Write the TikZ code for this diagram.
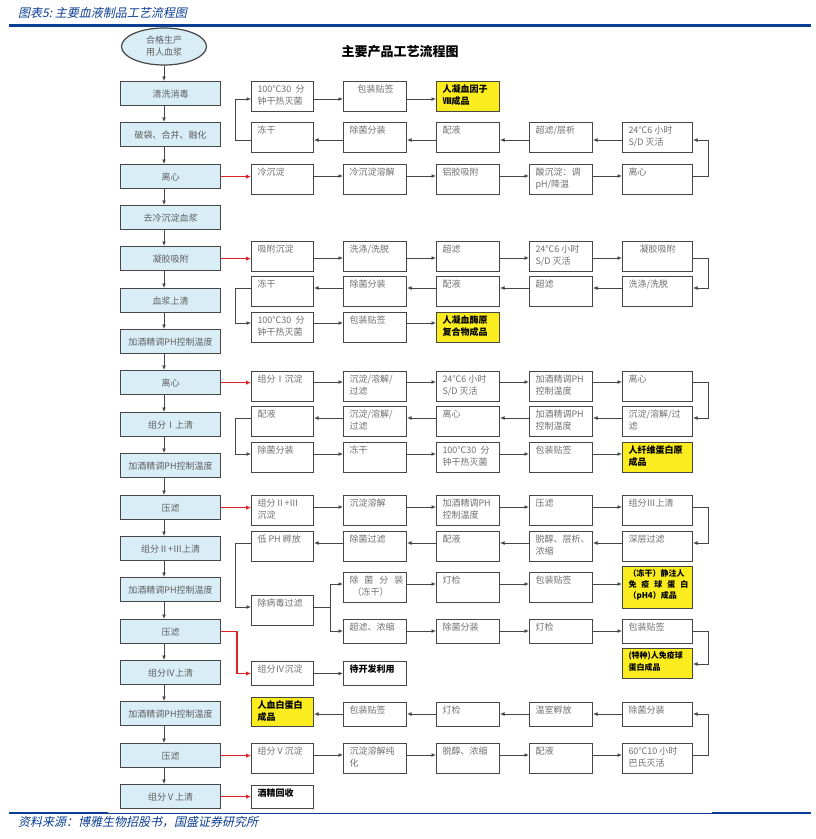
\documentclass[tikz,border=0pt]{standalone}
\usepackage{fontspec}
\setmainfont{Noto Sans CJK SC}
\newfontfamily\hdrfont[FakeSlant=0.22]{Noto Sans CJK SC}
\usetikzlibrary{arrows.meta,shapes.geometric}
\definecolor{lblue}{RGB}{216,237,245}
\definecolor{bd}{RGB}{70,70,70}
\definecolor{yel}{RGB}{250,236,30}
\definecolor{rd}{RGB}{222,32,40}
\definecolor{hblue}{RGB}{10,62,148}
\definecolor{tg}{RGB}{112,112,112}
\definecolor{lt}{RGB}{95,95,95}
\newcommand\rbfmt{\vspace*{3.2pt}\leftskip=6pt\rightskip=0pt plus 1fil\parindent=0pt\fontsize{9}{12}\selectfont}
\newcommand\RB[7]{\node[#1,anchor=north west] (#2) at (#3,#4) {\parbox[c][#6pt][t]{#5pt}{\rbfmt #7\par}};}
\newcommand\harr[3]{\draw[arr] (#1.east|-#3) -- (#2.west|-#3);}
\newcommand\larr[3]{\draw[arr] (#1.west|-#3) -- (#2.east|-#3);}
\begin{document}
\begin{tikzpicture}[x=1pt,y=-1pt,
  rbox/.style={draw=bd,line width=1pt,fill=white,inner sep=0pt,text=tg},
  ybox/.style={draw=bd,line width=1pt,fill=yel,inner sep=0pt,text=black,font=\bfseries},
  bbox/.style={draw=bd,line width=1pt,fill=white,inner sep=0pt,text=black,font=\bfseries},
  lbox/.style={draw=bd,line width=1.2pt,fill=lblue,minimum width=100pt,minimum height=24pt,inner sep=0pt,text=lt,font=\fontsize{9}{11}\selectfont,anchor=north west},
  arr/.style={draw=bd,line width=0.9pt,-{Latex[length=4.5pt,width=4pt]}},
  rarr/.style={draw=rd,line width=1.6pt,-{Latex[length=5pt,width=4.5pt]}}]
\useasboundingbox (0,0) rectangle (815,839);
\fill[white] (0,0) rectangle (815,839);
% header and footer
\node[anchor=west,inner sep=0pt,text=hblue,font=\hdrfont\fontsize{12}{14}\selectfont] (hdr) at (18,12.5) {图表5:\ 主要血液制品工艺流程图};
\draw[hblue,line width=2.5pt] (9,25.5) -- (811,25.5);
\draw[hblue,line width=2pt] (9,812.5) -- (108,812.5);
\draw[hblue,line width=1pt] (108,813) -- (712,813);
\draw[hblue,line width=2pt] (712,812.5) -- (811,812.5);
\node[anchor=west,inner sep=0pt,text=hblue,font=\hdrfont\fontsize{12}{14}\selectfont] (src) at (18,822) {资料来源：博雅生物招股书，国盛证券研究所};
\node[font=\bfseries\fontsize{13}{15}\selectfont] (title) at (400,52) {主要产品工艺流程图};
% left column
\node[ellipse,draw=bd,line width=1.2pt,fill=lblue,minimum width=85pt,minimum height=37pt,inner sep=0pt,align=center,text=lt,font=\fontsize{9}{12}\selectfont] (E) at (164,46.5) {合格生产\\用人血浆};
\node[lbox] (L0) at (120,81) {清洗消毒};
\node[lbox] (L1) at (120,122) {破袋、合并、融化};
\node[lbox] (L2) at (120,164) {离心};
\node[lbox] (L3) at (120,205) {去冷沉淀血浆};
\node[lbox] (L4) at (120,246) {凝胶吸附};
\node[lbox] (L5) at (120,288) {血浆上清};
\node[lbox] (L6) at (120,329) {加酒精调PH控制温度};
\node[lbox] (L7) at (120,370) {离心};
\node[lbox] (L8) at (120,412) {组分Ⅰ上清};
\node[lbox] (L9) at (120,453) {加酒精调PH控制温度};
\node[lbox] (L10) at (120,495) {压滤};
\node[lbox] (L11) at (120,536) {组分Ⅱ+Ⅲ上清};
\node[lbox] (L12) at (120,577) {加酒精调PH控制温度};
\node[lbox] (L13) at (120,619) {压滤};
\node[lbox] (L14) at (120,660) {组分Ⅳ上清};
\node[lbox] (L15) at (120,701) {加酒精调PH控制温度};
\node[lbox] (L16) at (120,743) {压滤};
\node[lbox] (L17) at (120,784) {组分Ⅴ上清};
\draw[arr] (E.south) -- (E.south|-L0.north);
\foreach \a/\b in {L0/L1,L1/L2,L2/L3,L3/L4,L4/L5,L5/L6,L6/L7,L7/L8,L8/L9,L9/L10,L10/L11,L11/L12,L12/L13,L13/L14,L14/L15,L15/L16,L16/L17}
  \draw[arr] (\a.south-|E.south) -- (\b.north-|E.south);
% ===== section 1
\RB{rbox}{A00}{251}{81}{62}{30}{100℃30\ \ 分\\钟干热灭菌}
\RB{rbox}{A01}{343}{81}{63}{30}{\hspace*{8pt}包装贴签}
\RB{ybox}{A02}{436}{81}{63}{30}{人凝血因子\\Ⅷ成品}
\RB{rbox}{A10}{251}{122}{62}{30}{冻干}
\RB{rbox}{A11}{343}{122}{63}{30}{除菌分装}
\RB{rbox}{A12}{436}{122}{63}{30}{配液}
\RB{rbox}{A13}{529}{122}{63}{30}{超滤/层析}
\RB{rbox}{A14}{622}{122}{70}{30}{24℃6 小时\\S/D 灭活}
\RB{rbox}{A20}{251}{164}{62}{30}{冷沉淀}
\RB{rbox}{A21}{343}{164}{63}{30}{冷沉淀溶解}
\RB{rbox}{A22}{436}{164}{63}{30}{铝胶吸附}
\RB{rbox}{A23}{529}{164}{63}{30}{酸沉淀：调\\pH/降温}
\RB{rbox}{A24}{622}{164}{70}{30}{离心}
\coordinate (ra0) at (0,99);
\coordinate (ra1) at (0,140);
\coordinate (ra2) at (0,176);
\draw[rarr] (L2.east) -- (L2.east-|A20.west);
\harr{A20}{A21}{ra2}\harr{A21}{A22}{ra2}\harr{A22}{A23}{ra2}\harr{A23}{A24}{ra2}
\draw[arr] (A24.east|-ra2) -- ++(15,0) |- (A14.east|-ra1);
\larr{A14}{A13}{ra1}\larr{A13}{A12}{ra1}\larr{A12}{A11}{ra1}\larr{A11}{A10}{ra1}
\draw[arr] (A10.west|-ra1) -- ++(-16,0) |- (A00.west|-ra0);
\harr{A00}{A01}{ra0}\harr{A01}{A02}{ra0}
% ===== section 2
\RB{rbox}{B00}{251}{241}{62}{30}{吸附沉淀}
\RB{rbox}{B01}{343}{241}{63}{30}{洗涤/洗脱}
\RB{rbox}{B02}{436}{241}{63}{30}{超滤}
\RB{rbox}{B03}{529}{241}{63}{30}{24℃6 小时\\S/D 灭活}
\RB{rbox}{B04}{622}{241}{70}{30}{\hspace*{11pt}凝胶吸附}
\RB{rbox}{B10}{251}{276}{62}{30}{冻干}
\RB{rbox}{B11}{343}{276}{63}{30}{除菌分装}
\RB{rbox}{B12}{436}{276}{63}{30}{配液}
\RB{rbox}{B13}{529}{276}{63}{30}{超滤}
\RB{rbox}{B14}{622}{276}{70}{30}{洗涤/洗脱}
\RB{rbox}{B20}{251}{312}{62}{30}{100℃30\ \ 分\\钟干热灭菌}
\RB{rbox}{B21}{343}{312}{63}{30}{包装贴签}
\RB{ybox}{B22}{436}{312}{63}{30}{人凝血酶原\\复合物成品}
\coordinate (rb0) at (0,258);
\coordinate (rb1) at (0,288);
\coordinate (rb2) at (0,323);
\draw[rarr] (L4.east) -- (L4.east-|B00.west);
\harr{B00}{B01}{rb0}\harr{B01}{B02}{rb0}\harr{B02}{B03}{rb0}\harr{B03}{B04}{rb0}
\draw[arr] (B04.east|-rb0) -- ++(15,0) |- (B14.east|-rb1);
\larr{B14}{B13}{rb1}\larr{B13}{B12}{rb1}\larr{B12}{B11}{rb1}\larr{B11}{B10}{rb1}
\draw[arr] (B10.west|-rb1) -- ++(-16,0) |- (B20.west|-rb2);
\harr{B20}{B21}{rb2}\harr{B21}{B22}{rb2}
% ===== section 3
\RB{rbox}{C00}{251}{371}{62}{30}{组分Ⅰ沉淀}
\RB{rbox}{C01}{343}{371}{63}{30}{沉淀/溶解/\\过滤}
\RB{rbox}{C02}{436}{371}{63}{30}{24℃6 小时\\S/D 灭活}
\RB{rbox}{C03}{529}{371}{63}{30}{加酒精调PH\\控制温度}
\RB{rbox}{C04}{622}{371}{70}{30}{离心}
\RB{rbox}{C10}{251}{406}{62}{30}{配液}
\RB{rbox}{C11}{343}{406}{63}{30}{沉淀/溶解/\\过滤}
\RB{rbox}{C12}{436}{406}{63}{30}{离心}
\RB{rbox}{C13}{529}{406}{63}{30}{加酒精调PH\\控制温度}
\RB{rbox}{C14}{622}{406}{70}{30}{沉淀/溶解/过\\滤}
\RB{rbox}{C20}{251}{442}{62}{30}{除菌分装}
\RB{rbox}{C21}{343}{442}{63}{30}{冻干}
\RB{rbox}{C22}{436}{442}{63}{30}{100℃30\ \ 分\\钟干热灭菌}
\RB{rbox}{C23}{529}{442}{63}{30}{包装贴签}
\RB{ybox}{C24}{622}{442}{70}{30}{人纤维蛋白原\\成品}
\coordinate (rc0) at (0,382);
\coordinate (rc1) at (0,418);
\coordinate (rc2) at (0,454);
\draw[rarr] (L7.east) -- (L7.east-|C00.west);
\harr{C00}{C01}{rc0}\harr{C01}{C02}{rc0}\harr{C02}{C03}{rc0}\harr{C03}{C04}{rc0}
\draw[arr] (C04.east|-rc0) -- ++(15,0) |- (C14.east|-rc1);
\larr{C14}{C13}{rc1}\larr{C13}{C12}{rc1}\larr{C12}{C11}{rc1}\larr{C11}{C10}{rc1}
\draw[arr] (C10.west|-rc1) -- ++(-16,0) |- (C20.west|-rc2);
\harr{C20}{C21}{rc2}\harr{C21}{C22}{rc2}\harr{C22}{C23}{rc2}\harr{C23}{C24}{rc2}
% ===== section 4
\RB{rbox}{D00}{251}{495}{62}{30}{组分Ⅱ+Ⅲ\\沉淀}
\RB{rbox}{D01}{343}{495}{63}{30}{沉淀溶解}
\RB{rbox}{D02}{436}{495}{63}{30}{加酒精调PH\\控制温度}
\RB{rbox}{D03}{529}{495}{63}{30}{压滤}
\RB{rbox}{D04}{622}{495}{70}{30}{组分Ⅲ上清}
\RB{rbox}{D10}{251}{531}{62}{30}{低 PH 孵放}
\RB{rbox}{D11}{343}{531}{63}{30}{除菌过滤}
\RB{rbox}{D12}{436}{531}{63}{30}{配液}
\RB{rbox}{D13}{529}{531}{63}{30}{脱醇、层析、\\浓缩}
\RB{rbox}{D14}{622}{531}{70}{30}{深层过滤}
\RB{rbox}{D20}{251}{595}{62}{30}{除病毒过滤}
\RB{rbox}{E1}{343}{572}{63}{30}{除\hfill 菌\hfill 分\hfill 装\hspace*{3pt}\\\hspace*{3pt}（冻干）}
\RB{rbox}{E2}{436}{572}{63}{30}{灯检}
\RB{rbox}{E3}{529}{572}{63}{30}{包装贴签}
\RB{ybox}{E4}{622}{566}{70}{42}{\fontsize{8}{11}\selectfont（冻干）静注人\\免\hfill 疫\hfill 球\hfill 蛋\hfill 白\hspace*{4pt}\\（pH4）成品}
\RB{rbox}{F1}{343}{619}{63}{24}{超滤、浓缩}
\RB{rbox}{F2}{436}{619}{63}{24}{除菌分装}
\RB{rbox}{F3}{529}{619}{63}{24}{灯检}
\RB{rbox}{F4}{622}{619}{70}{24}{包装贴签}
\RB{ybox}{F5}{622}{648}{70}{30}{\fontsize{8}{12}\selectfont(特种)人免疫球\\蛋白成品}
\coordinate (rd0) at (0,507);
\coordinate (rd1) at (0,543);
\coordinate (rd2) at (0,607);
\coordinate (re) at (0,584);
\coordinate (rf) at (0,631);
\coordinate (rg) at (0,664);
\draw[rarr] (L10.east) -- (L10.east-|D00.west);
\harr{D00}{D01}{rd0}\harr{D01}{D02}{rd0}\harr{D02}{D03}{rd0}\harr{D03}{D04}{rd0}
\draw[arr] (D04.east|-rd0) -- ++(15,0) |- (D14.east|-rd1);
\larr{D14}{D13}{rd1}\larr{D13}{D12}{rd1}\larr{D12}{D11}{rd1}\larr{D11}{D10}{rd1}
\draw[arr] (D10.west|-rd1) -- ++(-16,0) |- (D20.west|-rd2);
\draw[draw=bd,line width=0.9pt] (D20.east|-rd2) -- ++(16,0) coordinate (split);
\draw[arr] (split) |- (E1.west|-re);
\draw[arr] (split) |- (F1.west|-rf);
\harr{E1}{E2}{re}\harr{E2}{E3}{re}\harr{E3}{E4}{re}
\harr{F1}{F2}{rf}\harr{F2}{F3}{rf}\harr{F3}{F4}{rf}
\draw[arr] (F4.east|-rf) -- ++(15,0) |- (F5.east|-rg);
% ===== section 5
\RB{rbox}{G0}{251}{661}{62}{24}{组分Ⅳ沉淀}
\RB{bbox}{G1}{343}{661}{63}{24}{待开发利用}
\draw[rarr] (L13.east) -- ++(16,0) |- (G0.west);
\draw[arr] (G0.east) -- (G1.west);
% ===== section 6
\RB{ybox}{H0}{251}{697}{62}{29}{人血白蛋白\\成品}
\RB{rbox}{H1}{343}{702}{63}{24}{包装贴签}
\RB{rbox}{H2}{436}{702}{63}{24}{灯检}
\RB{rbox}{H3}{529}{702}{63}{24}{温室孵放}
\RB{rbox}{H4}{622}{702}{70}{24}{除菌分装}
\RB{rbox}{I0}{251}{743}{62}{30}{组分Ⅴ沉淀}
\RB{rbox}{I1}{343}{743}{63}{30}{沉淀溶解纯\\化}
\RB{rbox}{I2}{436}{743}{63}{30}{脱醇、浓缩}
\RB{rbox}{I3}{529}{743}{63}{30}{配液}
\RB{rbox}{I4}{622}{743}{70}{30}{60℃10 小时\\巴氏灭活}
\RB{bbox}{J0}{251}{785}{62}{23}{酒精回收}
\coordinate (rh) at (0,714);
\coordinate (ri) at (0,755);
\draw[rarr] (L16.east) -- (L16.east-|I0.west);
\harr{I0}{I1}{ri}\harr{I1}{I2}{ri}\harr{I2}{I3}{ri}\harr{I3}{I4}{ri}
\draw[arr] (I4.east|-ri) -- ++(15,0) |- (H4.east|-rh);
\larr{H4}{H3}{rh}\larr{H3}{H2}{rh}\larr{H2}{H1}{rh}\larr{H1}{H0}{rh}
\draw[rarr] (L17.east) -- (L17.east-|J0.west);
\end{tikzpicture}
\end{document}
